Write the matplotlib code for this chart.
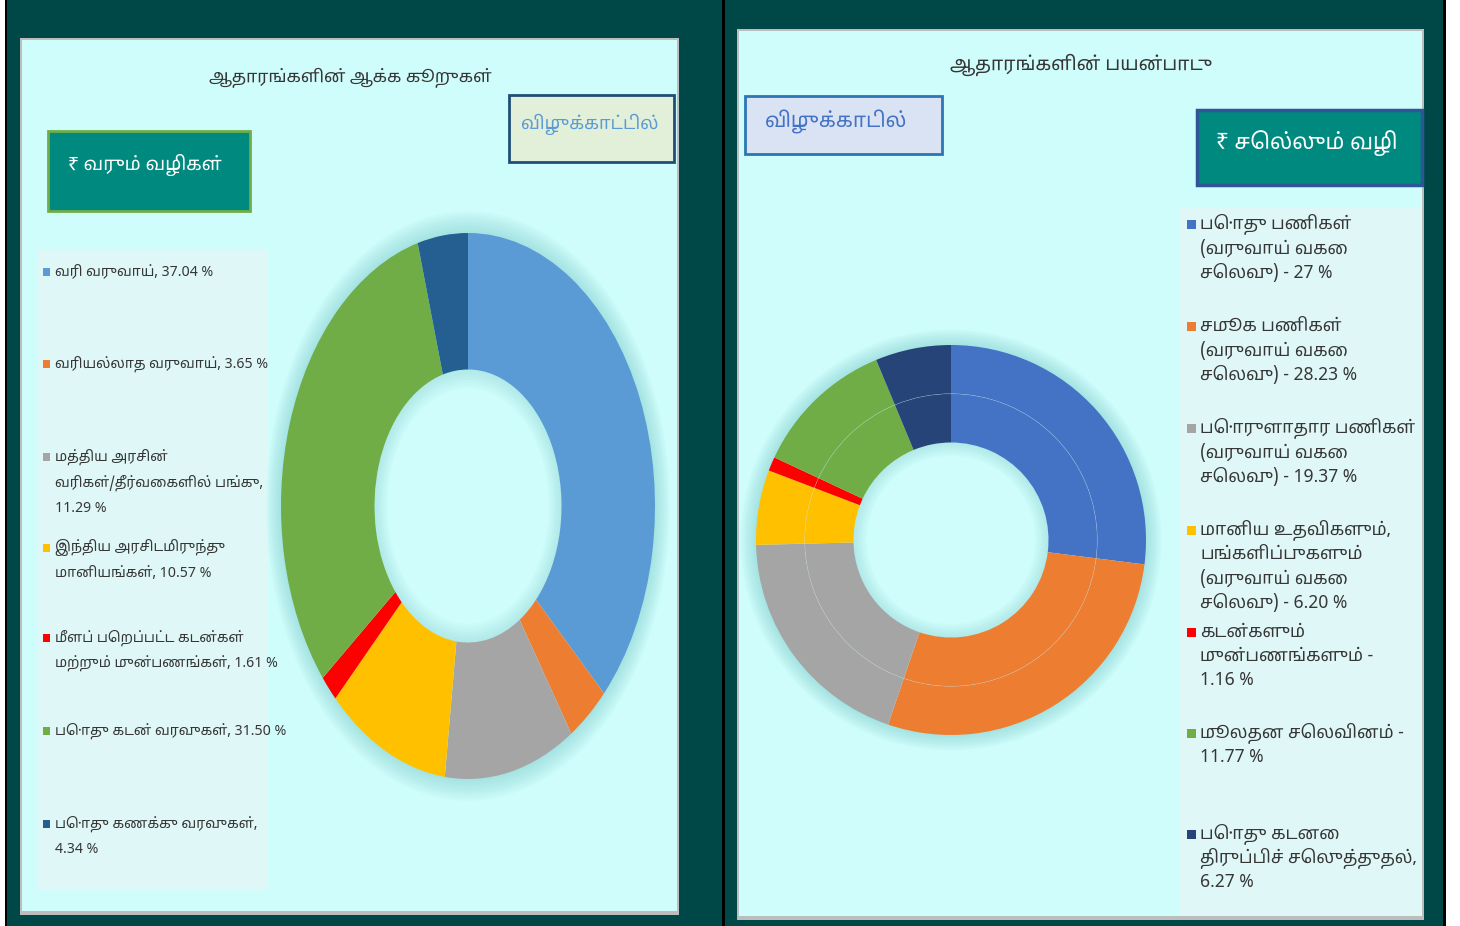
import matplotlib
matplotlib.use("Agg")
import matplotlib.pyplot as plt
from matplotlib.patches import Rectangle, Wedge

# ---------------- data ----------------
left_title = "ஆதாரங்களின் ஆக்க கூறுகள்"
left_badge = "₹ வரும் வழிகள்"
left_unit = "விழுக்காட்டில்"
left_values = [37.04, 3.65, 11.29, 10.57, 1.61, 31.50, 4.34]
left_labels = [
    "வரி வருவாய், 37.04 %",
    "வரியல்லாத வருவாய், 3.65 %",
    "மத்திய அரசின்\nவரிகள்/தீர்வைகளில் பங்கு,\n11.29 %",
    "இந்திய அரசிடமிருந்து\nமானியங்கள், 10.57 %",
    "மீளப் பெறப்பட்ட கடன்கள்\nமற்றும் முன்பணங்கள், 1.61 %",
    "பொது கடன் வரவுகள், 31.50 %",
    "பொது கணக்கு வரவுகள்,\n4.34 %",
]
left_colors = ["#5B9BD5", "#ED7D31", "#A5A5A5", "#FFC000", "#FF0000", "#70AD47", "#255E91"]

right_title = "ஆதாரங்களின் பயன்பாடு"
right_badge = "₹ செல்லும் வழி"
right_unit = "விழுக்காடில்"
right_values = [27.0, 28.23, 19.37, 6.20, 1.16, 11.77, 6.27]
right_labels = [
    "பொது பணிகள்\n(வருவாய் வகை\nசெலவு) - 27 %",
    "சமூக பணிகள்\n(வருவாய் வகை\nசெலவு) - 28.23 %",
    "பொருளாதார பணிகள்\n(வருவாய் வகை\nசெலவு) - 19.37 %",
    "மானிய உதவிகளும்,\nபங்களிப்புகளும்\n(வருவாய் வகை\nசெலவு) - 6.20 %",
    "கடன்களும்\nமுன்பணங்களும் -\n1.16 %",
    "மூலதன செலவினம் -\n11.77 %",
    "பொது கடனை\nதிருப்பிச் செலுத்துதல்,\n6.27 %",
]
right_colors = ["#4472C4", "#ED7D31", "#A5A5A5", "#FFC000", "#FF0000", "#70AD47", "#264478"]

# ---------------- layout helpers ----------------
W, H = 1460, 926
fig = plt.figure(figsize=(W / 100, H / 100), dpi=100)
fig.patch.set_facecolor("white")

def fx(x):
    return x / W

def fy(y):
    return 1 - y / H

def rect(x0, y0, x1, y1, fc, ec="none", lw=0, z=0):
    r = Rectangle((fx(x0), fy(y1)), fx(x1) - fx(x0), fy(y0) - fy(y1),
                  transform=fig.transFigure, facecolor=fc, edgecolor=ec,
                  linewidth=lw, zorder=z)
    fig.add_artist(r)
    return r

FONT = ["Noto Sans Tamil", "DejaVu Sans"]
TXT = "#363636"
BG_DARK = "#004848"
PANEL = "#CFFDFB"
LEG_BG = "#DFF8F7"
GLOW = "#5FBDBD"

def glow(ax, inner_r):
    # soft shadow outside the ring and just inside the hole
    for k in range(10):
        w = 0.008 * (k + 1)
        ax.add_patch(Wedge((0, 0), 1.0 + w, 0, 360, width=w + 0.005, facecolor=GLOW,
                           alpha=0.04, edgecolor="none", zorder=0.2, clip_on=False))
    for k in range(7):
        w = 0.01 * (k + 1)
        ax.add_patch(Wedge((0, 0), inner_r + 0.002, 0, 360, width=w, facecolor=GLOW,
                           alpha=0.04, edgecolor="none", zorder=0.2, clip_on=False))

# background
rect(6, 0, 1444, 926, BG_DARK, z=0)
rect(5, 0, 7, 926, "black", z=1)
rect(722, 0, 725, 926, "black", z=1)
rect(1443, 0, 1446, 926, "black", z=1)

# panels (with grey frame / shadow)
rect(20, 38, 679, 915, "#BDBDBD", z=1)
rect(22, 40, 677, 911, PANEL, z=2)
rect(737, 29, 1424, 920, "#BDBDBD", z=1)
rect(739, 31, 1422, 916, PANEL, z=2)

# legend backgrounds
rect(38, 250, 268, 890, LEG_BG, z=3)
rect(1180, 207, 1422, 916, LEG_BG, z=3)

# ---------------- left panel ----------------
fig.text(fx(350), fy(78), left_title, ha="center", va="center", fontsize=12.5,
         color=TXT, family=FONT, zorder=10)
rect(48, 131, 250, 211, "#00897F", ec="#70AD47", lw=2, z=5)
fig.text(fx(68), fy(165), left_badge, ha="left", va="center", fontsize=13.5,
         color="white", family=FONT, zorder=10)
rect(509, 95, 674, 162, "#E2EFD9", ec="#1F4E79", lw=2, z=5)
fig.text(fx(590), fy(124), left_unit, ha="center", va="center", fontsize=13,
         color="#5B9BD5", family=FONT, zorder=10)

left_leg_y = [272, 364, 457, 548, 638, 731, 824]
LH_L = 25.5
for lab, col, y in zip(left_labels, left_colors, left_leg_y):
    rect(43, y - 4, 50, y + 4, col, z=6)
    for i, line in enumerate(lab.split("\n")):
        fig.text(fx(55), fy(y + i * LH_L), line, ha="left", va="center",
                 fontsize=10.2, color=TXT, family=FONT, zorder=10)

# left donut (elliptical)
axL = fig.add_axes([fx(281), fy(779), fx(655) - fx(281), fy(233) - fy(779)], zorder=8)
axL.set_facecolor("none")
glow(axL, 0.5)
axL.pie(left_values, colors=left_colors, startangle=90, counterclock=False,
        radius=1.0, wedgeprops=dict(width=0.5, edgecolor="none", linewidth=0))
axL.set_aspect("auto")
axL.set_xlim(-1, 1)
axL.set_ylim(-1, 1)
axL.axis("off")

# ---------------- right panel ----------------
fig.text(fx(1081), fy(65), right_title, ha="center", va="center", fontsize=13.8,
         color=TXT, family=FONT, zorder=10)
rect(745, 96, 942, 154, "#DAE3F3", ec="#2E75B6", lw=2, z=5)
fig.text(fx(765), fy(121), right_unit, ha="left", va="center", fontsize=14.8,
         color="#4472C4", family=FONT, zorder=10)
rect(1197, 110, 1422, 185, "#00897F", ec="#2F5597", lw=2.5, z=5)
fig.text(fx(1216), fy(143), right_badge, ha="left", va="center", fontsize=15.8,
         color="white", family=FONT, zorder=10)

right_leg_y = [224, 326, 428, 530, 632, 733, 834]
LH_R = 24
for lab, col, y in zip(right_labels, right_colors, right_leg_y):
    rect(1187, y - 4, 1196, y + 5, col, z=6)
    for i, line in enumerate(lab.split("\n")):
        fig.text(fx(1200), fy(y + i * LH_R), line, ha="left", va="center",
                 fontsize=12.6, color=TXT, family=FONT, zorder=10)

# right donut (two identical rings)
axR = fig.add_axes([fx(756), fy(735), fx(1146) - fx(756), fy(345) - fy(735)], zorder=8)
axR.set_facecolor("none")
glow(axR, 0.5)
axR.pie(right_values, colors=right_colors, startangle=90, counterclock=False,
        radius=1.0, wedgeprops=dict(width=0.25, edgecolor="none", linewidth=0))
axR.pie(right_values, colors=right_colors, startangle=90, counterclock=False,
        radius=0.75, wedgeprops=dict(width=0.25, edgecolor="none", linewidth=0))
axR.add_patch(Wedge((0, 0), 0.7515, 0, 360, width=0.003, facecolor="#C8DCE6",
                    alpha=0.45, edgecolor="none", zorder=6))
axR.set_aspect("auto")
axR.set_xlim(-1, 1)
axR.set_ylim(-1, 1)
axR.axis("off")

fig.savefig("out.png", dpi=100, facecolor=fig.get_facecolor())
